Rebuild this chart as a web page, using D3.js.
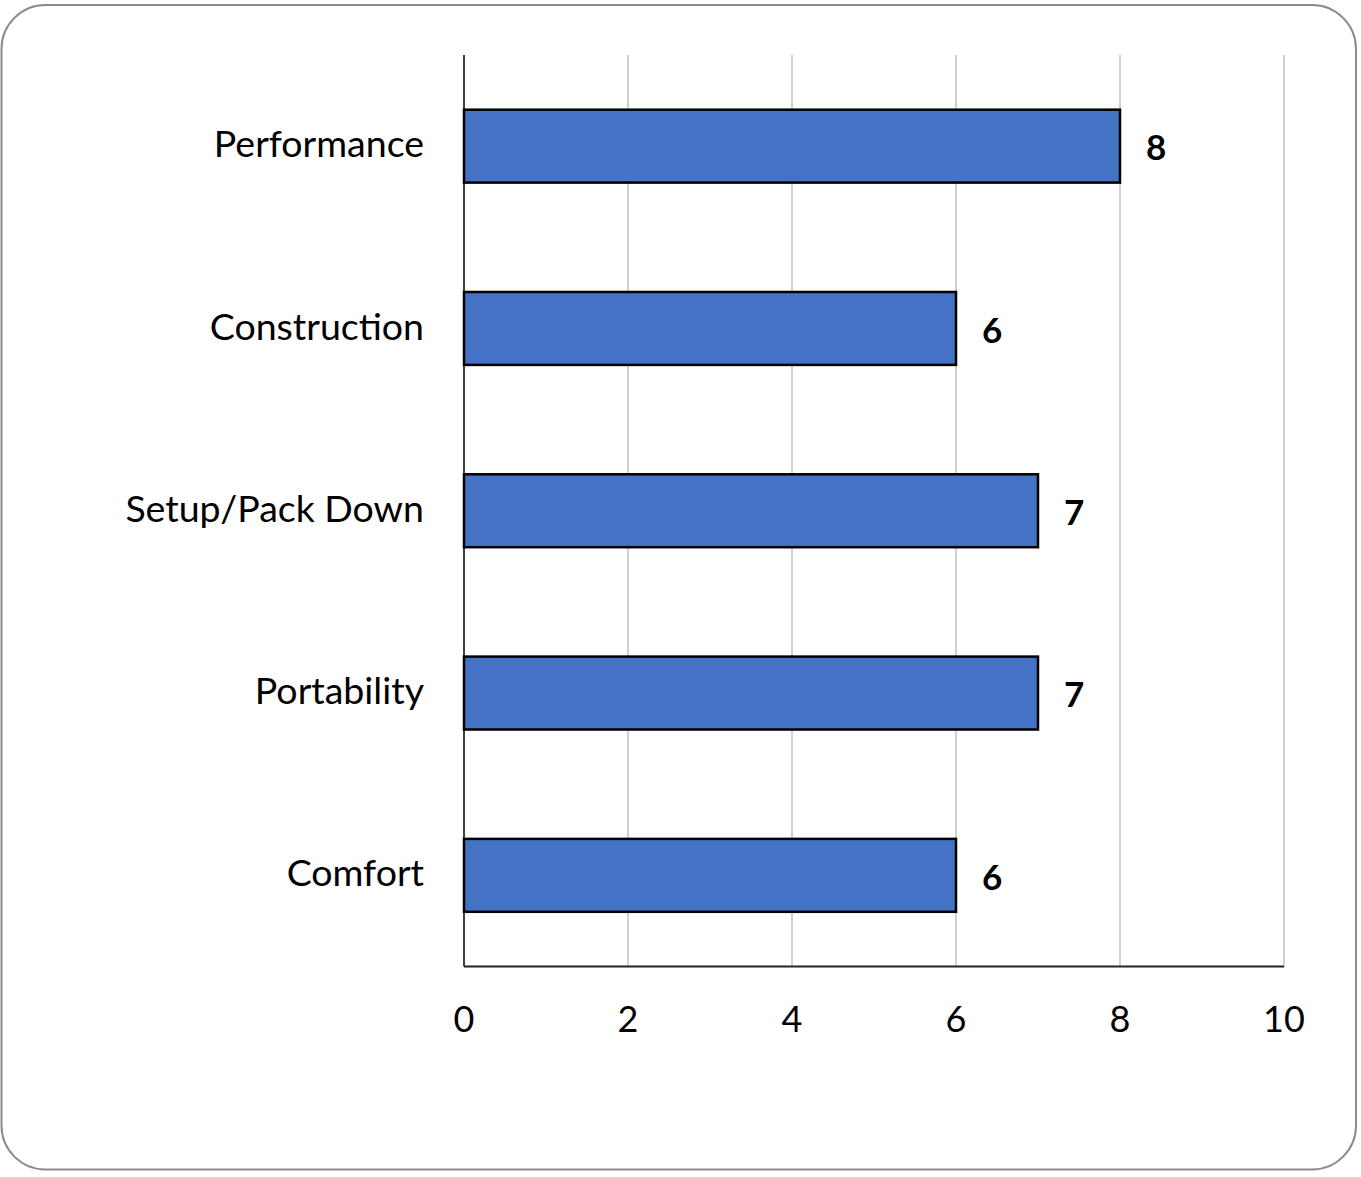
<!DOCTYPE html>
<html><head><meta charset="utf-8">
<script src="https://cdn.jsdelivr.net/npm/d3@7"></script>
<style>html,body{margin:0;padding:0;background:#fff;}svg{display:block;}</style>
</head><body>
<svg id="chart" width="1361" height="1177"></svg>
<script>
const categories = ["Performance", "Construction", "Setup/Pack Down", "Portability", "Comfort"];
const values = [8, 6, 7, 7, 6];
const tickValues = [0, 2, 4, 6, 8, 10];

(function () {
const svg = d3.select("#chart");
const font = "Lato, 'Open Sans', sans-serif";

svg.append("rect").attr("x", 1.5).attr("y", 5).attr("width", 1354.5).attr("height", 1164.5)
  .attr("rx", 44).attr("ry", 44).attr("fill", "#fff").attr("stroke", "#8c8c8c").attr("stroke-width", 2);

const pLeft = 464, pRight = 1284, pTop = 55, pBottom = 966.5;
const x = d3.scaleLinear().domain([0, 10]).range([pLeft, pRight]);
const y = d3.scaleBand().domain(categories).range([pTop, pBottom]).paddingInner(0.6).paddingOuter(0.3);

// gridlines
svg.append("g").selectAll("line").data(tickValues.filter(d => d > 0)).join("line")
  .attr("x1", d => x(d)).attr("x2", d => x(d)).attr("y1", pTop).attr("y2", pBottom)
  .attr("stroke", "#d0d0d0").attr("stroke-width", 2);

// bars
svg.append("g").selectAll("rect").data(values).join("rect")
  .attr("x", x(0)).attr("y", (d, i) => y(categories[i]))
  .attr("width", d => x(d) - x(0)).attr("height", y.bandwidth())
  .attr("fill", "#4472c4").attr("stroke", "#000").attr("stroke-width", 2.5);

// axes lines
svg.append("line").attr("x1", pLeft).attr("x2", pLeft).attr("y1", pTop).attr("y2", pBottom)
  .attr("stroke", "#000").attr("stroke-width", 1.5);
svg.append("line").attr("x1", pLeft).attr("x2", pRight).attr("y1", pBottom).attr("y2", pBottom)
  .attr("stroke", "#222").attr("stroke-width", 2);

// category labels
svg.append("g").selectAll("text").data(categories).join("text")
  .attr("x", 424).attr("y", d => y(d) + y.bandwidth() / 2 - 2)
  .attr("dy", "0.35em").attr("text-anchor", "end")
  .attr("font-family", font).attr("font-size", 37.5).attr("fill", "#000").text(d => d);

// value labels
svg.append("g").selectAll("text").data(values).join("text")
  .attr("x", d => x(d) + 26).attr("y", (d, i) => y(categories[i]) + y.bandwidth() / 2 + 2)
  .attr("dy", "0.35em").attr("font-family", font).attr("font-weight", "bold")
  .attr("font-size", 35).attr("fill", "#000").text(d => d);

// tick labels
svg.append("g").selectAll("text").data(tickValues).join("text")
  .attr("x", d => x(d)).attr("y", 1032).attr("text-anchor", "middle")
  .attr("font-family", font).attr("font-size", 36).attr("fill", "#000").text(d => d);
})();
</script>
</body></html>
